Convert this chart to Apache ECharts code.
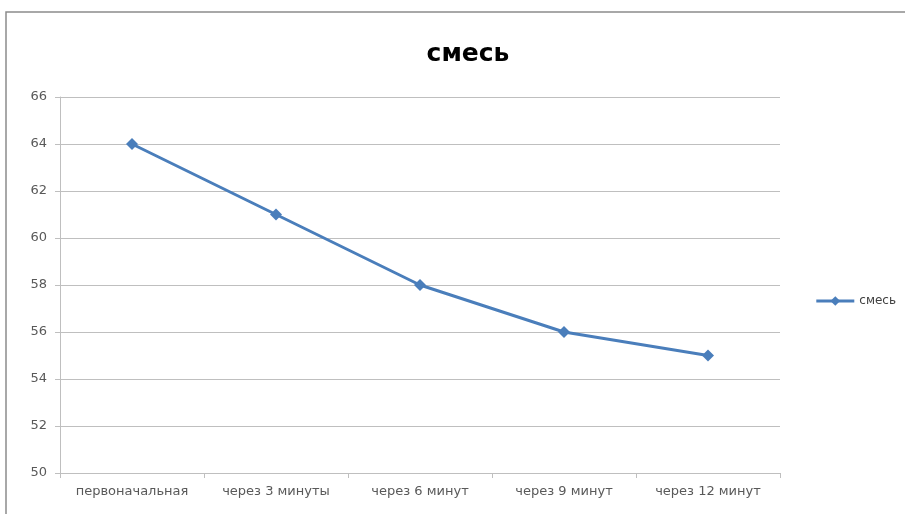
<!DOCTYPE html>
<html>
<head>
<meta charset="utf-8">
<script src="https://cdn.jsdelivr.net/npm/echarts@6/dist/echarts.min.js"></script>
<style>
  html, body { margin: 0; padding: 0; background: #fff; }
  #chart { width: 905px; height: 514px; }
</style>
</head>
<body>
<div id="chart"></div>
<script>
// Categories along the x axis
const categories = ['первоначальная', 'через 3 минуты', 'через 6 минут', 'через 9 минут', 'через 12 минут'];
// Series name and values
const seriesName = 'смесь';
const values = [64, 61, 58, 56, 55];
// Value axis range
const yMin = 50, yMax = 66, yStep = 2;

const chart = echarts.init(document.getElementById('chart'));
const font = 'DejaVu Sans, Noto Sans, sans-serif';

chart.setOption({
  backgroundColor: '#ffffff',
  animation: false,
  graphic: [{
    type: 'rect',
    shape: { x: 6, y: 12, width: 940, height: 560 },
    style: { fill: 'none', stroke: '#8c8c8c', lineWidth: 1.5 },
    silent: true,
    z: -1
  }],
  title: {
    text: seriesName,
    left: 463,
    top: 37,
    textAlign: 'center',
    textStyle: { fontFamily: font, fontSize: 25, fontWeight: 'bold', color: '#000' }
  },
  legend: {
    data: [seriesName],
    right: 4,
    top: 290,
    itemWidth: 38,
    itemHeight: 12,
    itemGap: 4,
    lineStyle: { width: 3 },
    textStyle: { fontFamily: font, fontSize: 12, color: '#404040' }
  },
  grid: { left: 60, right: 125, top: 97, bottom: 41, containLabel: false },
  xAxis: {
    type: 'category',
    data: categories,
    boundaryGap: true,
    axisLine: { lineStyle: { color: '#bfbfbf', width: 1 } },
    axisTick: { show: true, length: 5, lineStyle: { color: '#bfbfbf' } },
    axisLabel: { fontFamily: font, fontSize: 13, color: '#595959', margin: 12, interval: 0 }
  },
  yAxis: {
    type: 'value',
    min: yMin,
    max: yMax,
    interval: yStep,
    axisLine: { show: true, lineStyle: { color: '#bfbfbf', width: 1 } },
    axisTick: { show: true, length: 5, inside: false, lineStyle: { color: '#bfbfbf' } },
    splitLine: { lineStyle: { color: '#bfbfbf', width: 1 } },
    axisLabel: { fontFamily: font, fontSize: 13, color: '#595959', margin: 13 }
  },
  series: [{
    name: seriesName,
    type: 'line',
    data: values,
    symbol: 'diamond',
    symbolSize: 12,
    itemStyle: { color: '#4a7ebb' },
    lineStyle: { color: '#4a7ebb', width: 3 }
  }]
});
</script>
</body>
</html>
